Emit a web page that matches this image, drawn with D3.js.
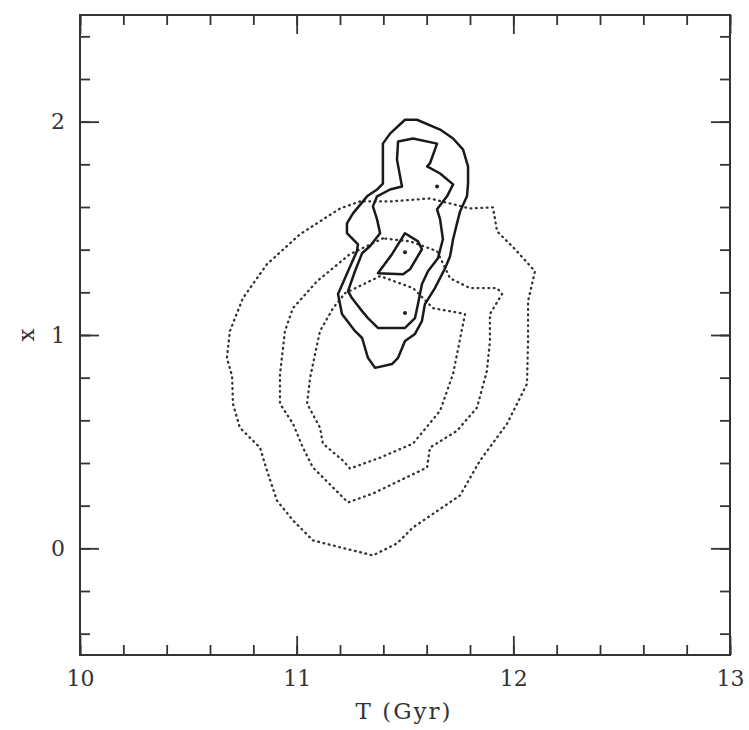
<!DOCTYPE html>
<html>
<head>
<meta charset="utf-8">
<script src="https://cdn.jsdelivr.net/npm/d3@7"></script>
<style>
  html, body { margin: 0; padding: 0; background: #fff; }
  svg text { font-family: "DejaVu Serif", "Liberation Serif", serif; fill: #333; }
</style>
</head>
<body>
<div id="chart"></div>
<script>
// axis ticks
const tTicks = [10, 11, 12, 13];
const xTicks = [0, 1, 2];

// solid contours (T in Gyr, x)
const solidOuter = [
  [11.500, 2.009], [11.555, 2.009], [11.662, 1.963], [11.722, 1.921], [11.768, 1.869],
  [11.791, 1.790], [11.791, 1.710], [11.786, 1.650], [11.754, 1.579], [11.740, 1.523],
  [11.722, 1.449], [11.708, 1.369], [11.685, 1.313], [11.638, 1.220], [11.592, 1.145],
  [11.578, 1.065], [11.546, 1.005], [11.500, 0.972], [11.468, 0.893], [11.440, 0.864],
  [11.362, 0.846], [11.329, 0.893], [11.302, 0.986], [11.269, 1.019], [11.209, 1.098],
  [11.191, 1.192], [11.237, 1.299], [11.278, 1.393], [11.283, 1.425], [11.232, 1.477],
  [11.232, 1.523], [11.260, 1.570], [11.325, 1.650], [11.371, 1.682], [11.398, 1.710],
  [11.398, 1.897], [11.431, 1.944]
];
const solidMiddle = [
  [11.468, 1.907], [11.537, 1.921], [11.648, 1.897], [11.615, 1.804], [11.602, 1.790],
  [11.662, 1.757], [11.722, 1.706], [11.694, 1.650], [11.648, 1.589], [11.662, 1.542],
  [11.675, 1.449], [11.652, 1.360], [11.606, 1.299], [11.578, 1.238], [11.560, 1.145],
  [11.546, 1.079], [11.500, 1.033], [11.375, 1.033], [11.329, 1.079], [11.302, 1.112],
  [11.255, 1.173], [11.237, 1.206], [11.269, 1.299], [11.302, 1.383], [11.338, 1.416],
  [11.385, 1.477], [11.371, 1.542], [11.352, 1.603], [11.371, 1.650], [11.431, 1.682],
  [11.486, 1.696], [11.463, 1.822]
];
const solidInner = [
  [11.500, 1.477], [11.560, 1.439], [11.578, 1.402], [11.523, 1.308], [11.491, 1.285],
  [11.375, 1.290], [11.440, 1.379]
];

// dotted contours
const dottedOuter = [
  [11.292, 1.626], [11.200, 1.593], [11.015, 1.472], [10.863, 1.332], [10.752, 1.173],
  [10.692, 1.019], [10.678, 0.893], [10.702, 0.808], [10.706, 0.678], [10.738, 0.565],
  [10.831, 0.472], [10.863, 0.364], [10.909, 0.224], [10.983, 0.131], [11.075, 0.037],
  [11.200, 0.005], [11.352, -0.033], [11.463, 0.023], [11.537, 0.098], [11.754, 0.248],
  [11.846, 0.411], [11.971, 0.584], [12.063, 0.771], [12.068, 0.972], [12.068, 1.159],
  [12.100, 1.299], [12.008, 1.402], [11.925, 1.486], [11.906, 1.598], [11.800, 1.593],
  [11.615, 1.640], [11.431, 1.626]
];
const dottedMiddle = [
  [11.398, 1.453], [11.246, 1.379], [11.094, 1.252], [10.983, 1.126], [10.946, 1.019],
  [10.937, 0.939], [10.923, 0.818], [10.923, 0.678], [10.983, 0.584], [11.029, 0.472],
  [11.075, 0.379], [11.168, 0.285], [11.237, 0.215], [11.352, 0.257], [11.477, 0.318],
  [11.602, 0.379], [11.615, 0.472], [11.740, 0.551], [11.832, 0.659], [11.878, 0.832],
  [11.892, 0.972], [11.892, 1.098], [11.948, 1.192], [11.925, 1.220], [11.800, 1.220],
  [11.708, 1.266], [11.648, 1.393], [11.523, 1.439]
];
const dottedInner = [
  [11.223, 1.196], [11.385, 1.276], [11.537, 1.220], [11.629, 1.126], [11.754, 1.103],
  [11.777, 1.098], [11.722, 0.818], [11.662, 0.645], [11.537, 0.491], [11.385, 0.425],
  [11.246, 0.374], [11.214, 0.411], [11.121, 0.491], [11.108, 0.565], [11.048, 0.678],
  [11.062, 0.799], [11.085, 0.911], [11.108, 1.019], [11.168, 1.126]
];

// peak markers
const peaks = [[11.648, 1.696], [11.500, 1.388], [11.500, 1.103]];

const W = 749, H = 730;
const margin = { top: 15, right: 19, bottom: 75, left: 80 };
const width = W - margin.left - margin.right;
const height = H - margin.top - margin.bottom;

const svg = d3.select('#chart')
  .append('svg')
  .attr('width', W)
  .attr('height', H)
  .append('g')
  .attr('transform', `translate(${margin.left},${margin.top})`);

const x = d3.scaleLinear().domain([10, 13]).range([0, width]);
const y = d3.scaleLinear().domain([-0.5, 2.5]).range([height, 0]);

const ink = '#333';

// minor ticks on all four sides
const minorX = x.ticks(15), minorY = y.ticks(15);
const sides = [
  [d3.axisBottom(x), `translate(0,${height})`, minorX],
  [d3.axisTop(x), 'translate(0,0)', minorX],
  [d3.axisLeft(y), 'translate(0,0)', minorY],
  [d3.axisRight(y), `translate(${width},0)`, minorY]
];
sides.forEach(([ax, tr, vals]) => {
  const g = svg.append('g').attr('transform', tr)
    .call(ax.tickValues(vals).tickSize(-10).tickSizeOuter(0).tickFormat(''));
  g.select('.domain').remove();
  g.selectAll('line').attr('stroke', ink).attr('stroke-width', 1.8);
});

// major ticks, labels on bottom and left only
const majors = [
  [d3.axisBottom(x).tickValues(tTicks), `translate(0,${height})`, true],
  [d3.axisTop(x).tickValues(tTicks), 'translate(0,0)', false],
  [d3.axisLeft(y).tickValues(xTicks), 'translate(0,0)', true],
  [d3.axisRight(y).tickValues(xTicks), `translate(${width},0)`, false]
];
majors.forEach(([ax, tr, labels]) => {
  ax.tickSize(-19).tickSizeOuter(0).tickPadding(15)
    .tickFormat(labels ? d3.format('d') : '');
  const g = svg.append('g').attr('transform', tr).call(ax);
  g.select('.domain').remove();
  g.selectAll('line').attr('stroke', ink).attr('stroke-width', 1.8);
  g.selectAll('text')
    .style('font-family', '"DejaVu Serif", "Liberation Serif", serif')
    .style('font-size', '22px')
    .attr('fill', ink);
});

// frame
svg.append('rect')
  .attr('x', 0).attr('y', 0)
  .attr('width', width).attr('height', height)
  .attr('fill', 'none')
  .attr('stroke', ink)
  .attr('stroke-width', 2);

const line = d3.line()
  .x(d => x(d[0]))
  .y(d => y(d[1]))
  .curve(d3.curveLinearClosed);

// dotted contours
[dottedOuter, dottedMiddle, dottedInner].forEach(c => {
  svg.append('path')
    .datum(c)
    .attr('fill', 'none')
    .attr('stroke', '#333')
    .attr('stroke-width', 2.3)
    .attr('stroke-linecap', 'round')
    .attr('stroke-dasharray', '0.8 4.6')
    .attr('d', line);
});

// solid contours
[solidOuter, solidMiddle, solidInner].forEach(c => {
  svg.append('path')
    .datum(c)
    .attr('fill', 'none')
    .attr('stroke', '#1a1a1a')
    .attr('stroke-width', 2.5)
    .attr('stroke-linejoin', 'round')
    .attr('d', line);
});

svg.selectAll('.peak')
  .data(peaks)
  .enter().append('circle')
  .attr('class', 'peak')
  .attr('cx', d => x(d[0]))
  .attr('cy', d => y(d[1]))
  .attr('r', 2)
  .attr('fill', '#222');

// axis titles
svg.append('text')
  .attr('x', width / 2 - 1)
  .attr('y', height + 64)
  .attr('text-anchor', 'middle')
  .style('font-size', '23px')
  .style('letter-spacing', '2px')
  .text('T (Gyr)');

svg.append('text')
  .attr('transform', `translate(${-53},${y(1)}) rotate(-90)`)
  .attr('text-anchor', 'middle')
  .attr('dy', '0.32em')
  .style('font-size', '23px')
  .text('x');
</script>
</body>
</html>
